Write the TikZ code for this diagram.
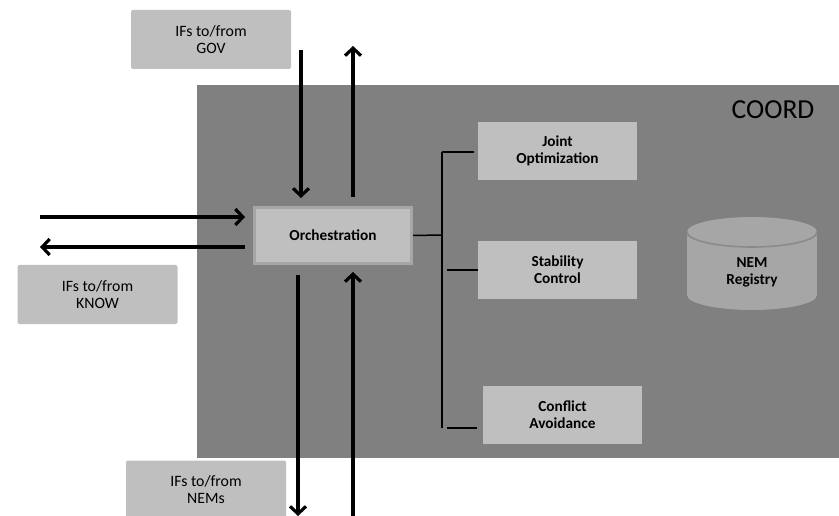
\documentclass[tikz,border=0pt]{standalone}
\usepackage{fontspec}
\setmainfont{Carlito}
\usetikzlibrary{arrows.meta}
\definecolor{coordgray}{HTML}{808080}
\definecolor{boxgray}{HTML}{BFBFBF}
\definecolor{edgegray}{HTML}{A6A6A6}
\definecolor{dbgray}{HTML}{A6A6A6}
\definecolor{dbline}{HTML}{8A8A8A}
\tikzset{
  ifbox/.style={fill=boxgray, rounded corners=2pt, minimum width=160pt, minimum height=59pt,
    inner sep=0pt, align=center, font=\fontsize{15.8}{17}\selectfont},
  fnbox/.style={fill=boxgray, minimum width=159pt, minimum height=58pt,
    inner sep=0pt, align=center, font=\fontsize{15.3}{17}\selectfont\bfseries},
  flow/.style={line width=3.2pt, -{Straight Barb[length=7.5pt,width=16pt]}},
  bus/.style={line width=1.5pt}
}
\begin{document}
\begin{tikzpicture}[x=1pt, y=-1pt]
\useasboundingbox (0,0) rectangle (839,516);
\clip (0,0) rectangle (839,516);

% COORD block
\fill[coordgray] (197,85) rectangle (839,458);
\node[font=\fontsize{27.5}{30}\selectfont] (coord) at (773,110) {COORD};

% external interface boxes
\node[ifbox] (gov) at (211,39.5) {IFs to/from\\GOV};
\node[ifbox] (know) at (97.5,294.5) {IFs to/from\\KNOW};
\node[ifbox] (nems) at (206,490) {IFs to/from\\NEMs};

% functional blocks
\node[fnbox, draw=edgegray, line width=3pt, minimum width=157pt, minimum height=56pt]
  (orch) at (333,235.5) {Orchestration};
\node[fnbox] (joint) at (557.5,151) {Joint\\Optimization};
\node[fnbox] (stab) at (557.5,270) {Stability\\Control};
\node[fnbox] (confl) at (562.5,415) {Conflict\\Avoidance};

% NEM registry database
\fill[dbgray] (687,232) rectangle (817,295);
\fill[dbgray] (752,295) ellipse [x radius=65pt, y radius=15pt];
\fill[dbgray] (752,232) ellipse [x radius=65pt, y radius=15pt];
\draw[dbline, line width=1.6pt] (687,232) arc[start angle=180, end angle=360, x radius=65pt, y radius=15pt];
\node[align=center, font=\fontsize{15.3}{17}\selectfont\bfseries] (reg) at (752,272) {NEM\\Registry};

% interface flow end points
\coordinate (govIn) at (301,50);
\coordinate (govOut) at (353,46);
\coordinate (knowIn) at (40,217);
\coordinate (knowOut) at (40,247);
\coordinate (nemOut) at (298,516);
\coordinate (nemIn) at (353,516);

\draw[flow, shorten >=8pt] (govIn) -- (govIn |- orch.north);
\draw[flow, shorten <=9pt] (govOut |- orch.north) -- (govOut);
\draw[flow, shorten >=8pt] (knowIn) -- (knowIn -| orch.west);
\draw[flow, shorten <=8pt] (knowOut -| orch.west) -- (knowOut);
\draw[flow, shorten <=10pt] (nemOut |- orch.south) -- (nemOut);
\draw[flow, shorten >=7pt] (nemIn) -- (nemIn |- orch.south);

% internal bus from orchestration to the control functions
\coordinate (busMid) at (442,235);
\coordinate (busTop) at (442,152);
\coordinate (busBot) at (442,428);
\draw[bus] (orch.east) -- (busMid);
\draw[bus] (busTop) -- (busBot);
\draw[bus, shorten >=4pt] (busTop) -- (busTop -| joint.west);
\draw[bus] ([xshift=5pt]busMid |- stab.west) -- (stab.west);
\draw[bus, shorten >=6pt] ([xshift=5pt]busBot) -- (busBot -| confl.west);
\end{tikzpicture}
\end{document}
